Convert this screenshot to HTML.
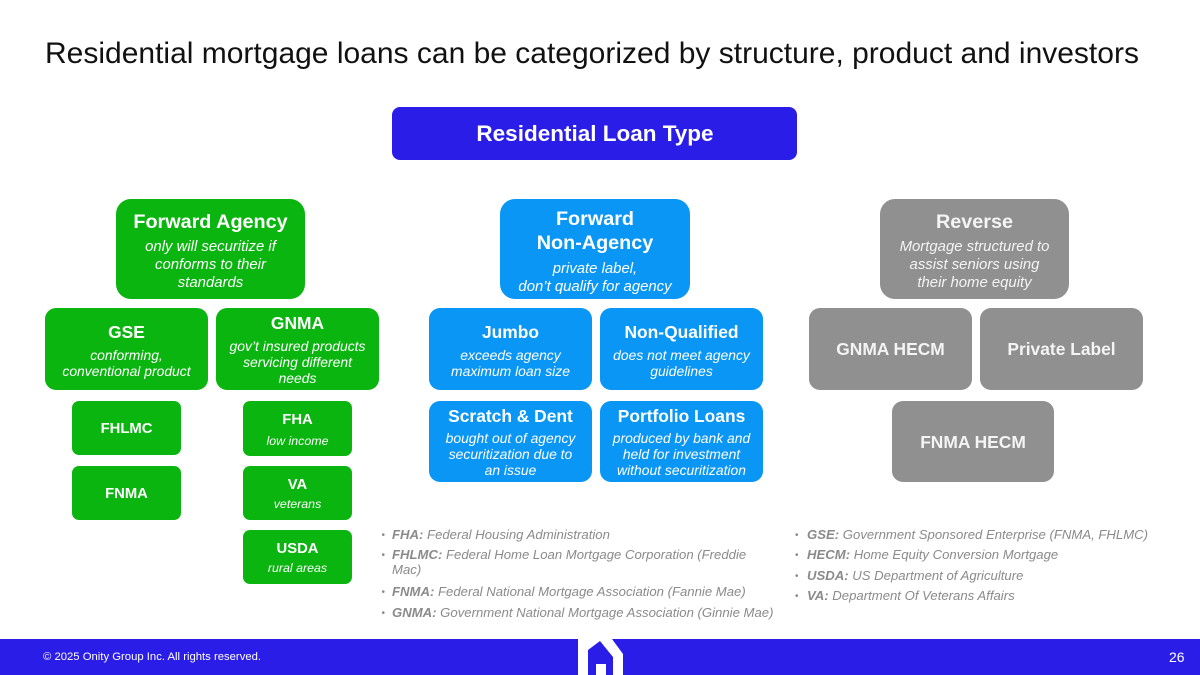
<!DOCTYPE html>
<html><head><meta charset="utf-8"><style>
html,body{margin:0;padding:0;background:#fff}
#p{position:relative;width:1200px;height:675px;overflow:hidden;background:#fff;font-family:"Liberation Sans",sans-serif}
.a{position:absolute}
.b{position:absolute;color:#fff;text-align:center;box-sizing:border-box;display:flex;flex-direction:column;align-items:center;justify-content:center}
.g{background:#0ab50f}.c{background:#0a96f5}.y{background:#909090;color:#f4f4f4}
.t{font-weight:bold;font-size:19.8px;line-height:24px}
.m{font-weight:bold;font-size:17.4px;line-height:20px}
.s{font-style:italic;font-size:14.9px;line-height:18px;margin-top:4px}
.z{font-style:italic;font-size:13.9px;line-height:16px;margin-top:5px}
.r{border-radius:15px;padding-top:4px}
.q{border-radius:11px;padding-top:1px}
.k{border-radius:7px;padding-top:2px}
.n{font-weight:bold;font-size:14.8px;line-height:18px}
.x{font-style:italic;font-size:12.4px;line-height:16px;margin-top:2px}
.l{position:absolute;font-style:italic;font-size:13.15px;line-height:15px;color:#8a8a8a;white-space:nowrap}
.l b{font-weight:bold}
.l:before{content:"•";position:absolute;left:-10.5px;top:1px;font-style:normal;font-size:10px}
.w:before{left:-12px}
</style></head><body><div id="p">
<div class="a" style="left:45px;top:37px;font-size:30px;line-height:34px;color:#111;white-space:nowrap">Residential mortgage loans can be categorized by structure, product and investors</div>
<div class="b" style="left:392px;top:107px;width:405px;height:53px;background:#2b1de8;border-radius:8px;font-weight:bold;font-size:22.5px;padding-top:1px;padding-left:1px">Residential Loan Type</div>

<div class="b g r" style="left:116px;top:199px;width:189px;height:100px"><div class="t">Forward Agency</div><div class="s">only will securitize if<br>conforms to their<br>standards</div></div>
<div class="b g q" style="left:45px;top:308px;width:163px;height:82px;padding-top:3px"><div class="m">GSE</div><div class="z">conforming,<br>conventional product</div></div>
<div class="b g q" style="left:216px;top:308px;width:163px;height:82px"><div class="m">GNMA</div><div class="z">gov’t insured products<br>servicing different<br>needs</div></div>
<div class="b g k" style="left:72px;top:401px;width:109px;height:54px;padding-top:1px"><div class="n">FHLMC</div></div>
<div class="b g k" style="left:72px;top:466px;width:109px;height:54px;padding-top:1px"><div class="n">FNMA</div></div>
<div class="b g k" style="left:243px;top:401px;width:109px;height:55px"><div class="n">FHA</div><div class="x" style="margin-top:4px">low income</div></div>
<div class="b g k" style="left:243px;top:466px;width:109px;height:54px"><div class="n">VA</div><div class="x">veterans</div></div>
<div class="b g k" style="left:243px;top:530px;width:109px;height:54px"><div class="n">USDA</div><div class="x">rural areas</div></div>

<div class="b c r" style="left:500px;top:199px;width:190px;height:100px;padding-top:5px"><div class="t">Forward<br>Non-Agency</div><div class="s" style="margin-top:5px">private label,<br>don’t qualify for agency</div></div>
<div class="b c q" style="left:429px;top:308px;width:163px;height:82px;padding-top:3px"><div class="m">Jumbo</div><div class="z">exceeds agency<br>maximum loan size</div></div>
<div class="b c q" style="left:600px;top:308px;width:163px;height:82px;padding-top:3px"><div class="m">Non-Qualified</div><div class="z">does not meet agency<br>guidelines</div></div>
<div class="b c q" style="left:429px;top:401px;width:163px;height:81px;padding-top:0"><div class="m">Scratch &amp; Dent</div><div class="z" style="margin-top:4px">bought out of agency<br>securitization due to<br>an issue</div></div>
<div class="b c q" style="left:600px;top:401px;width:163px;height:81px;padding-top:0"><div class="m">Portfolio Loans</div><div class="z" style="margin-top:4px">produced by bank and<br>held for investment<br>without securitization</div></div>

<div class="b y r" style="left:880px;top:199px;width:189px;height:100px"><div class="t">Reverse</div><div class="s">Mortgage structured to<br>assist seniors using<br>their home equity</div></div>
<div class="b y q" style="left:809px;top:308px;width:163px;height:82px;padding-top:0"><div class="m">GNMA HECM</div></div>
<div class="b y q" style="left:980px;top:308px;width:163px;height:82px;padding-top:0"><div class="m">Private Label</div></div>
<div class="b y q" style="left:892px;top:401px;width:162px;height:81px;padding-top:0"><div class="m">FNMA HECM</div></div>

<div class="l" style="left:392px;top:527px"><b>FHA:</b> Federal Housing Administration</div>
<div class="l" style="left:392px;top:547px"><b>FHLMC:</b> Federal Home Loan Mortgage Corporation (Freddie<br>Mac)</div>
<div class="l" style="left:392px;top:584px"><b>FNMA:</b> Federal National Mortgage Association (Fannie Mae)</div>
<div class="l" style="left:392px;top:605px"><b>GNMA:</b> Government National Mortgage Association (Ginnie Mae)</div>
<div class="l w" style="left:807px;top:527px"><b>GSE:</b> Government Sponsored Enterprise (FNMA, FHLMC)</div>
<div class="l w" style="left:807px;top:547px"><b>HECM:</b> Home Equity Conversion Mortgage</div>
<div class="l w" style="left:807px;top:568px"><b>USDA:</b> US Department of Agriculture</div>
<div class="l w" style="left:807px;top:588px"><b>VA:</b> Department Of Veterans Affairs</div>

<div class="a" style="left:0;top:639px;width:1200px;height:36px;background:#2b1de8"></div>
<svg class="a" style="left:0;top:0" width="1200" height="675"><polygon points="578,639 612,639 623,654 623,675 578,675" fill="#fff"/><polygon points="588,650 600,641 613,657 613,675 606,675 606,664 596,664 596,675 588,675" fill="#2b1de8"/></svg>
<div class="a" style="left:43px;top:650px;font-size:11.3px;line-height:14px;color:#fff;white-space:nowrap">© 2025 Onity Group Inc. All rights reserved.</div>
<div class="a" style="left:1169px;top:649px;font-size:14px;line-height:16px;color:#fff">26</div>
</div></body></html>
